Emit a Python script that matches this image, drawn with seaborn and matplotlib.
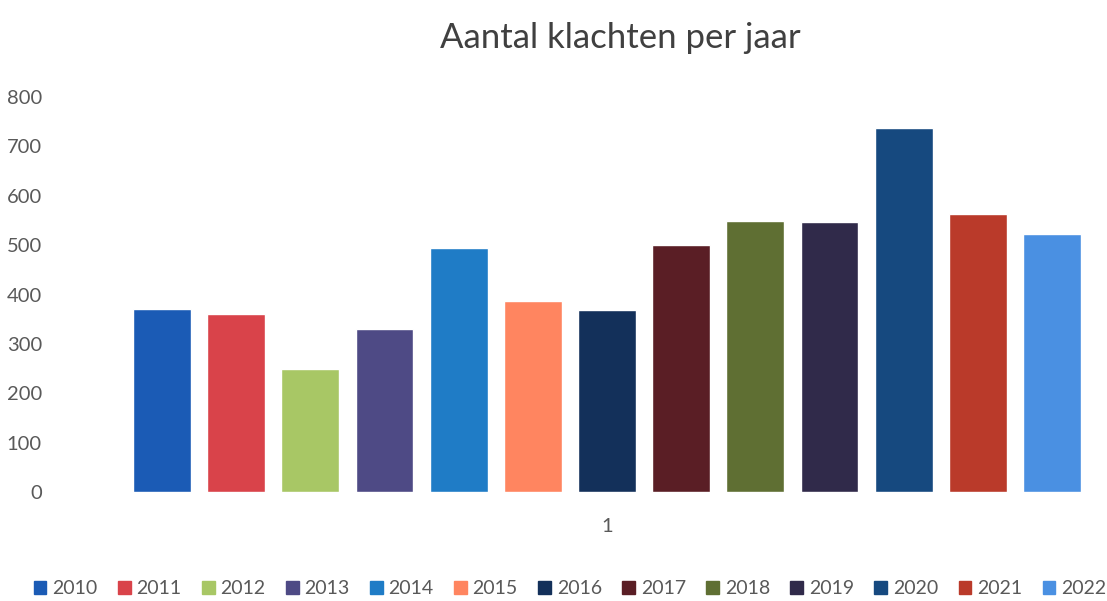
import pandas as pd
import matplotlib.pyplot as plt
import seaborn as sns

years = ['2010', '2011', '2012', '2013', '2014', '2015', '2016',
         '2017', '2018', '2019', '2020', '2021', '2022']
klachten = [370, 360, 250, 330, 495, 386, 368, 500, 549, 546, 738, 563, 522]
colors = ['#1B5BB5', '#D9434A', '#A8C765', '#4E4A85', '#1F7CC6', '#FF8560', '#13305A',
          '#5A1E25', '#5F6F33', '#302A4A', '#16497F', '#BA3A2A', '#4A90E2']

df = pd.DataFrame({'groep': ['1'] * len(years), 'jaar': years, 'aantal': klachten})

sns.set_style('white')
plt.rcParams['font.family'] = ['Lato', 'DejaVu Sans']

fig = plt.figure(figsize=(11.07, 6.01), dpi=100)
ax = fig.add_axes([60 / 1107, (601 - 492) / 601, 1040 / 1107, 395 / 601])

sns.barplot(data=df, x='groep', y='aantal', hue='jaar', palette=colors,
            width=0.8, gap=0.22, saturation=1, legend=False, ax=ax)

# center of the bar group at ~607px
r = 0.8 / 964
ax.set_xlim(-(607 - 60) * r, (1100 - 607) * r)
ax.set_ylim(0, 800)
ax.set_yticks(range(0, 801, 100))
ax.tick_params(axis='y', labelsize=14.5, colors='#595959', length=0, pad=13)
ax.tick_params(axis='x', labelsize=14.5, colors='#595959', length=0, pad=19)
ax.set_xlabel('')
ax.set_ylabel('')
for s in ax.spines.values():
    s.set_visible(False)

fig.text(620 / 1107, 1 - 38 / 601, 'Aantal klachten per jaar', ha='center', va='center',
         fontsize=25, color='#404040')

handles = [plt.Rectangle((0, 0), 1, 1, color=c) for c in colors]
fig.legend(handles, years, loc='center', bbox_to_anchor=(570 / 1107, 1 - 589 / 601), ncol=13,
           frameon=False, fontsize=14, handlelength=0.65, handleheight=0.65,
           handletextpad=0.3, columnspacing=1.05, labelcolor='#595959')

fig.savefig('out.png', dpi=100)
